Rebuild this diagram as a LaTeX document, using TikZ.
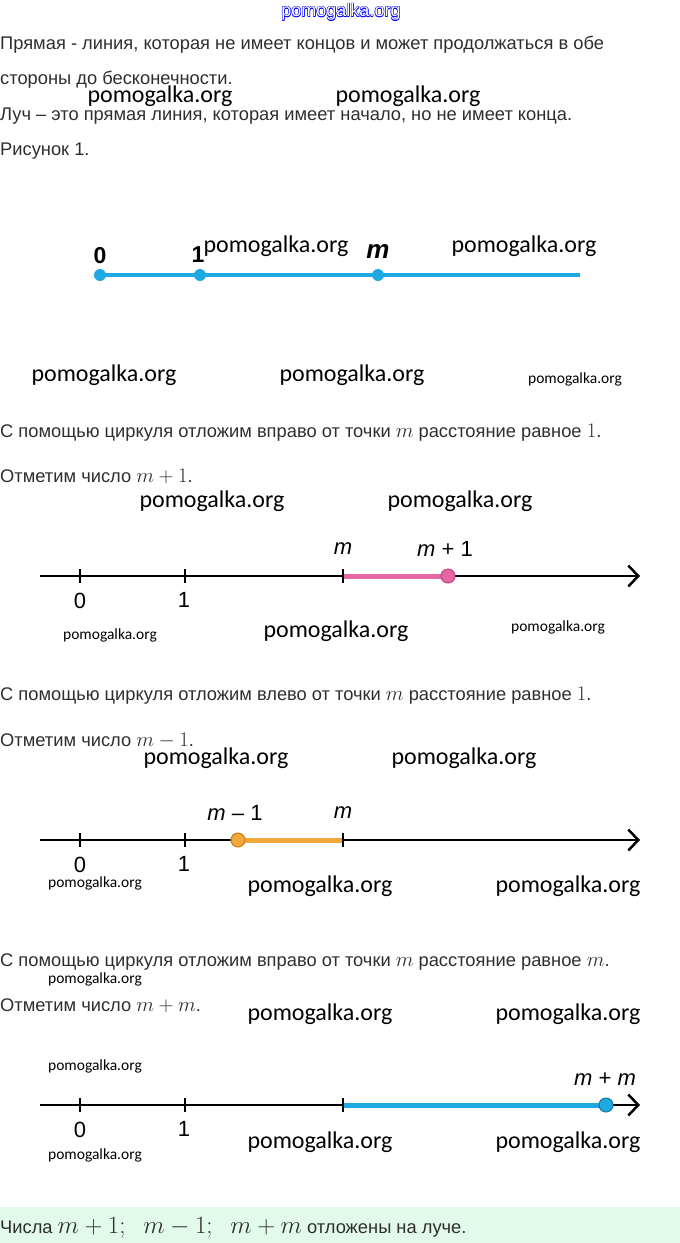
\documentclass[tikz,border=0pt]{standalone}
\usepackage{fontspec}
\setmainfont{Liberation Sans}
\newfontfamily\wmfont{Carlito}
\usetikzlibrary{arrows.meta}
\definecolor{rayblue}{HTML}{1FA9E1}
\definecolor{segpink}{HTML}{E468A6}
\definecolor{dotpink}{HTML}{C2437F}
\definecolor{segorange}{HTML}{F2A93B}
\definecolor{dotorange}{HTML}{CC7A10}
\definecolor{bandgreen}{HTML}{E2FAEA}
\definecolor{bodygray}{HTML}{2E2E2E}
\newcommand\mth[1]{{\fontsize{22.5}{23}\selectfont$#1$}}

\begin{document}
\begin{tikzpicture}[x=1pt,y=-1pt,every node/.style={black},
	txt/.style={anchor=base west,inner sep=0pt,text=bodygray,font=\fontsize{18.3}{20}\selectfont},
	wm/.style={inner sep=0pt,font=\wmfont\fontsize{24}{26}\selectfont},
	wmsmall/.style={inner sep=0pt,font=\wmfont\fontsize{15.5}{17}\selectfont},
	topwm/.style={inner sep=0pt,font=\fontsize{18}{20}\selectfont},
	lbl/.style={inner sep=0pt,font=\fontsize{22}{24}\selectfont},
	axis/.style={line width=2.5pt,-{Straight Barb[length=10pt,width=21pt]}},
	tick/.style={line width=2.5pt},
	pt/.style={circle,inner sep=0pt,minimum size=#1}]
	\useasboundingbox (0,0) rectangle (680,1243);
	\fill[bandgreen] (0,1207) rectangle (680,1243);

	\foreach \a in {0,45,...,315}
		\node[topwm,text=blue,xshift={0.5*cos(\a)},yshift={0.5*sin(\a)}] at (341,12) {pomogalka.org};
	\node[topwm,text=white] (top) at (341,12) {pomogalka.org};

	\node[txt] (t1) at (0,49) {Прямая - линия, которая не имеет концов и может продолжаться в обе};
	\node[txt] (t2) at (0,84) {стороны до бесконечности.};
	\node[txt] (t3) at (0,120) {Луч – это прямая линия, которая имеет начало, но не имеет конца.};
	\node[txt] (t4) at (0,155) {Рисунок 1.};
	\node[txt] (t5) at (0,437) {С помощью циркуля отложим вправо от точки \mth{m} расстояние равное \mth{1}.};
	\node[txt] (t6) at (0,482) {Отметим число \mth{m+1}.};
	\node[txt] (t7) at (0,700) {С помощью циркуля отложим влево от точки \mth{m} расстояние равное \mth{1}.};
	\node[txt] (t8) at (0,746) {Отметим число \mth{m-1}.};
	\node[txt] (t9) at (0,966) {С помощью циркуля отложим вправо от точки \mth{m} расстояние равное \mth{m}.};
	\node[txt] (t10) at (0,1011) {Отметим число \mth{m+m}.};
	\node[txt] (t11) at (0,1233) {Числа {\fontsize{24.5}{25}\selectfont$m+1;\ \ m-1;\ \ m+m$} отложены на луче.};

	\foreach \x/\y in {160/96,408/96,276/246,524/246,104/375,352/375,212/501,460/501,336/631,
		216/758,464/758,320/886,568/886,320/1014,568/1014,320/1142,568/1142}
		\node[wm] at (\x,\y) {pomogalka.org};
	\foreach \x/\y in {575/379,110/635,558/627,95/883,95/979,95/1066,95/1155}
		\node[wmsmall] at (\x,\y) {pomogalka.org};

	\coordinate (r0) at (100,275);
	\coordinate (r1) at (200,275);
	\coordinate (rm) at (378,275);
	\coordinate (rend) at (580,275);
	\draw[rayblue,line width=4pt] (r0) -- (rend);
	\foreach \p in {r0,r1,rm}
		\node[pt=12pt,fill=rayblue] at (\p) {};
	\node[lbl,font=\fontsize{23}{25}\selectfont\bfseries] (r0l) at (100,256) {0};
	\node[lbl,font=\fontsize{23}{25}\selectfont\bfseries] (r1l) at (198,255) {1};
	\node[lbl,font=\fontsize{26}{28}\selectfont\bfseries\itshape] (rml) at (378,252) {m};

	\foreach \y/\k in {576/b,840/c,1105/d} {
		\coordinate (\k s) at (40,\y);
		\coordinate (\k e) at (640,\y);
		\coordinate (\k 0) at (80,\y);
		\coordinate (\k 1) at (185,\y);
		\coordinate (\k m) at (343,\y);
		\draw[axis] (\k s) -- (\k e);
		\node[lbl] at (80,\y+25) {0};
		\node[lbl] at (184,\y+24) {1};
	}
	\coordinate (bp) at (448,576);
	\coordinate (cp) at (238,840);
	\coordinate (dp) at (606,1105);
	\draw[segpink,line width=5pt] (bm) -- (bp);
	\draw[segorange,line width=5pt] (cp) -- (cm);
	\draw[rayblue,line width=5pt] (dm) -- (dp);
	\foreach \k in {b,c,d}
		\foreach \t in {0,1,m}
			\draw[tick] ([yshift=-7pt]\k\t) -- ([yshift=7pt]\k\t);
	\node[pt=14pt,fill=segpink,draw=dotpink,line width=1pt] at (bp) {};
	\node[pt=14pt,fill=segorange,draw=dotorange,line width=1pt] at (cp) {};
	\node[pt=14pt,fill=rayblue,draw=rayblue!70!black,line width=1pt] at (dp) {};

	\node[lbl,font=\fontsize{22}{24}\selectfont\itshape] (bml) at (343,549) {m};
	\node[lbl] (bpl) at (445,549) {\textit{m} + 1};
	\node[lbl] (cpl) at (235,813) {\textit{m} – 1};
	\node[lbl,font=\fontsize{22}{24}\selectfont\itshape] (cml) at (343,813) {m};
	\node[lbl] (dpl) at (605,1079) {\textit{m} + \textit{m}};
\end{tikzpicture}
\end{document}
